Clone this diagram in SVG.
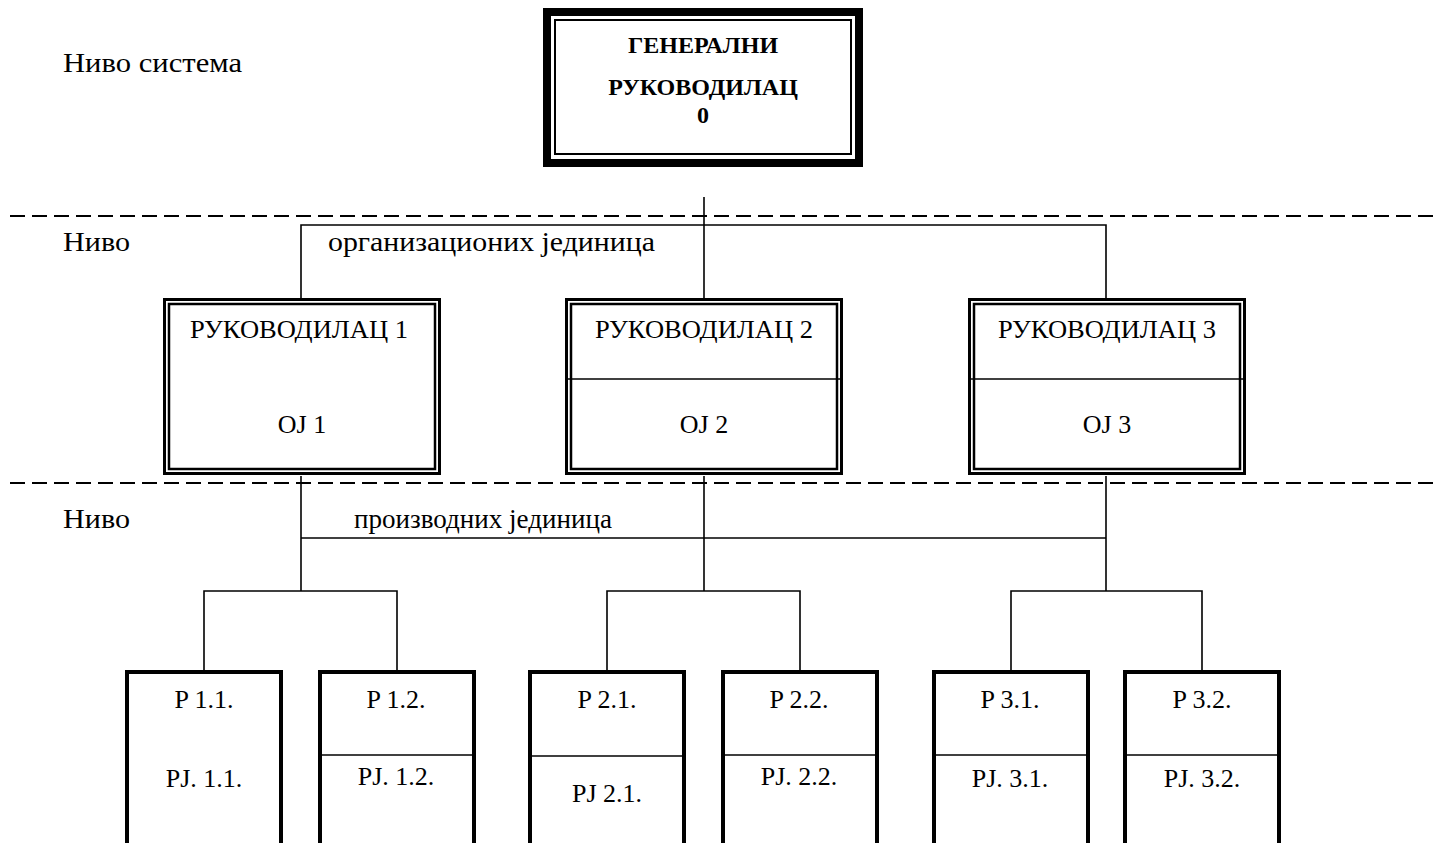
<svg xmlns="http://www.w3.org/2000/svg" width="1439" height="843" viewBox="0 0 1439 843">
  <style>
    text { font-family: 'Liberation Serif', 'DejaVu Serif', serif; fill: #000; }
    .lbl { font-size: 26px; }
    .cap { font-size: 27px; }
    .mid { text-anchor: middle; }
    .bold { font-size: 24px; font-weight: bold; text-anchor: middle; }
    .dash { stroke: #000; stroke-width: 2; stroke-dasharray: 15 7; fill: none; }
    .conn { stroke: #000; stroke-width: 1.6; fill: none; }
    .outer { fill: #fff; stroke: #000; stroke-width: 3; }
    .inner { fill: none; stroke: #000; stroke-width: 2.5; }
    .divider { stroke: #000; stroke-width: 1.6; }
    .unit { fill: #fff; stroke: #000; stroke-width: 4; }
  </style>

  <rect x="0" y="0" width="1439" height="843" fill="#fff"/>

  <g font-family="Liberation Serif, DejaVu Serif, serif">
  <!-- level separators and level captions -->
  <g id="levels">
    <line class="dash" x1="10" y1="216" x2="1439" y2="216"/>
    <line class="dash" x1="10" y1="483" x2="1439" y2="483"/>
    <text class="cap" x="63" y="72" textLength="179" lengthAdjust="spacingAndGlyphs">Ниво система</text>
    <text class="cap" x="63" y="251" textLength="67" lengthAdjust="spacingAndGlyphs">Ниво</text>
    <text class="cap" x="328" y="251" textLength="327" lengthAdjust="spacingAndGlyphs">организационих јединица</text>
    <text class="cap" x="63" y="528" textLength="67" lengthAdjust="spacingAndGlyphs">Ниво</text>
    <text class="cap" x="354" y="528" textLength="258" lengthAdjust="spacingAndGlyphs">производних јединица</text>
  </g>

  <!-- connectors -->
  <g id="connectors">
    <line class="conn" x1="704" y1="197" x2="704" y2="298"/>
    <polyline class="conn" points="301,298 301,225 1106,225 1106,298"/>
    <line class="conn" x1="301" y1="476" x2="301" y2="591"/>
    <line class="conn" x1="704" y1="476" x2="704" y2="591"/>
    <line class="conn" x1="1106" y1="476" x2="1106" y2="591"/>
    <line class="conn" x1="301" y1="538" x2="1106" y2="538"/>
    <polyline class="conn" points="204,672 204,591 397,591 397,672"/>
    <polyline class="conn" points="607,672 607,591 800,591 800,672"/>
    <polyline class="conn" points="1011,672 1011,591 1202,591 1202,672"/>
  </g>

  <!-- general manager -->
  <g id="node-0">
    <rect x="547" y="12" width="312" height="151" fill="#fff" stroke="#000" stroke-width="8"/>
    <rect x="555" y="20" width="296" height="134" fill="none" stroke="#000" stroke-width="2"/>
    <text class="bold" x="703" y="53">ГЕНЕРАЛНИ</text>
    <text class="bold" x="703" y="95">РУКОВОДИЛАЦ</text>
    <text class="bold" x="703" y="123">0</text>
  </g>

  <!-- organisational unit managers -->
  <g id="node-1">
    <rect class="outer" x="164.5" y="299.5" width="275" height="174"/>
    <rect class="inner" x="169" y="304" width="266" height="165"/>
    <text class="lbl mid" x="299" y="338" textLength="218" lengthAdjust="spacingAndGlyphs">РУКОВОДИЛАЦ 1</text>
    <text class="lbl mid" x="302" y="433">OJ 1</text>
  </g>
  <g id="node-2">
    <rect class="outer" x="566.5" y="299.5" width="275" height="174"/>
    <rect class="inner" x="571" y="304" width="266" height="165"/>
    <line class="divider" x1="566" y1="379" x2="842" y2="379"/>
    <text class="lbl mid" x="704" y="338" textLength="218" lengthAdjust="spacingAndGlyphs">РУКОВОДИЛАЦ 2</text>
    <text class="lbl mid" x="704" y="433">OJ 2</text>
  </g>
  <g id="node-3">
    <rect class="outer" x="969.5" y="299.5" width="275" height="174"/>
    <rect class="inner" x="974" y="304" width="266" height="165"/>
    <line class="divider" x1="969" y1="379" x2="1245" y2="379"/>
    <text class="lbl mid" x="1107" y="338" textLength="218" lengthAdjust="spacingAndGlyphs">РУКОВОДИЛАЦ 3</text>
    <text class="lbl mid" x="1107" y="433">OJ 3</text>
  </g>

  <!-- production units -->
  <g id="node-1-1">
    <path class="unit" d="M127,845 V672 H281 V845"/>
    <text class="lbl mid" x="204" y="708">P 1.1.</text>
    <text class="lbl mid" x="204" y="787">PJ. 1.1.</text>
  </g>
  <g id="node-1-2">
    <path class="unit" d="M320,845 V672 H474 V845"/>
    <line class="divider" x1="320" y1="755" x2="474" y2="755"/>
    <text class="lbl mid" x="396" y="708">P 1.2.</text>
    <text class="lbl mid" x="396" y="785">PJ. 1.2.</text>
  </g>
  <g id="node-2-1">
    <path class="unit" d="M530,845 V672 H684 V845"/>
    <line class="divider" x1="530" y1="756" x2="684" y2="756"/>
    <text class="lbl mid" x="607" y="708">P 2.1.</text>
    <text class="lbl mid" x="607" y="802">PJ 2.1.</text>
  </g>
  <g id="node-2-2">
    <path class="unit" d="M723,845 V672 H877 V845"/>
    <line class="divider" x1="723" y1="755" x2="877" y2="755"/>
    <text class="lbl mid" x="799" y="708">P 2.2.</text>
    <text class="lbl mid" x="799" y="785">PJ. 2.2.</text>
  </g>
  <g id="node-3-1">
    <path class="unit" d="M934,845 V672 H1088 V845"/>
    <line class="divider" x1="934" y1="755" x2="1088" y2="755"/>
    <text class="lbl mid" x="1010" y="708">P 3.1.</text>
    <text class="lbl mid" x="1010" y="787">PJ. 3.1.</text>
  </g>
  <g id="node-3-2">
    <path class="unit" d="M1125,845 V672 H1279 V845"/>
    <line class="divider" x1="1125" y1="755" x2="1279" y2="755"/>
    <text class="lbl mid" x="1202" y="708">P 3.2.</text>
    <text class="lbl mid" x="1202" y="787">PJ. 3.2.</text>
  </g>
  </g>
</svg>
